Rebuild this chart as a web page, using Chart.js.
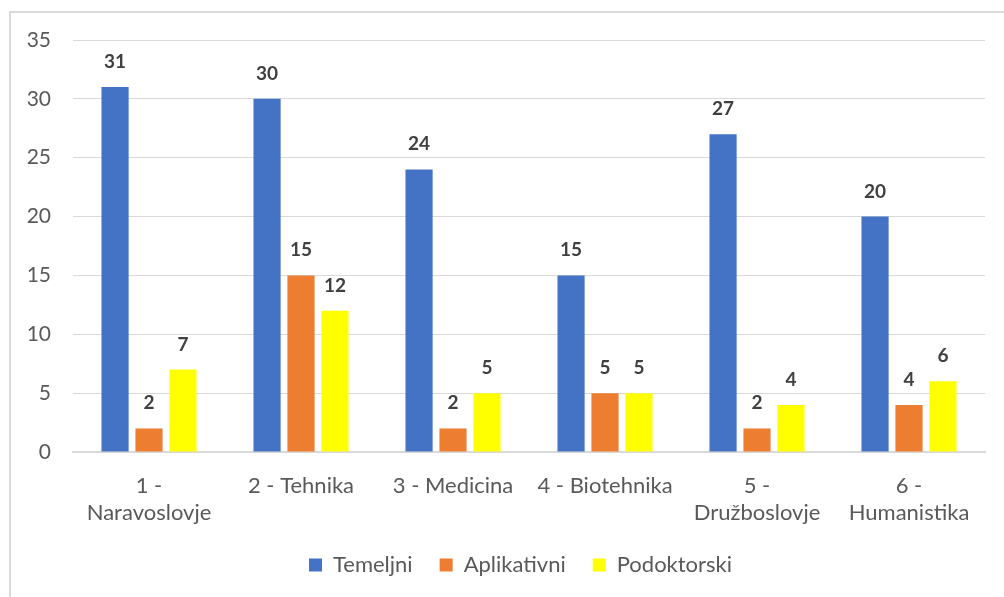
<!DOCTYPE html>
<html>
<head>
<meta charset="utf-8">
<script src="https://cdn.jsdelivr.net/npm/chart.js@4/dist/chart.umd.min.js"></script>
<style>
  body { margin: 0; background: #fff; }
  #frame { position: absolute; left: 9px; top: 11px; width: 1100px; height: 700px; border: 2px solid #d9d9d9; box-sizing: border-box; }
  #wrap { position: absolute; left: 0; top: 0; width: 1004px; height: 597px; }
</style>
</head>
<body>
<div id="frame"></div>
<div id="wrap"><canvas id="chart"></canvas></div>
<script>
const categories = [
    ['1 -', 'Naravoslovje'],
    '2 - Tehnika',
    '3 - Medicina',
    '4 - Biotehnika',
    ['5 -', 'Družboslovje'],
    ['6 -', 'Humanistika']
];
const temeljni = [31, 30, 24, 15, 27, 20];
const aplikativni = [2, 15, 2, 5, 2, 4];
const podoktorski = [7, 12, 5, 5, 4, 6];

const fontFamily = 'Lato, "Open Sans", sans-serif';

// draws the bold value above each bar
const valueLabels = {
    id: 'valueLabels',
    afterDatasetsDraw(chart) {
        const ctx = chart.ctx;
        ctx.save();
        ctx.font = 'bold 19px ' + fontFamily;
        ctx.fillStyle = '#404040';
        ctx.textAlign = 'center';
        ctx.textBaseline = 'alphabetic';
        chart.data.datasets.forEach((ds, i) => {
            chart.getDatasetMeta(i).data.forEach((bar, j) => {
                ctx.fillText(ds.data[j], bar.x, bar.y - 19);
            });
        });
        ctx.restore();
    }
};

// legend sits a little right of the canvas centre in the original
const legendShift = {
    id: 'legendShift',
    afterLayout(chart) {
        chart.legend.left += 18;
        chart.legend.right += 18;
    }
};

new Chart(document.getElementById('chart'), {
    type: 'bar',
    data: {
        labels: categories,
        datasets: [
            { label: 'Temeljni', data: temeljni, backgroundColor: '#4472C4' },
            { label: 'Aplikativni', data: aplikativni, backgroundColor: '#ED7D31' },
            { label: 'Podoktorski', data: podoktorski, backgroundColor: '#FFFF00' }
        ]
    },
    plugins: [valueLabels, legendShift],
    options: {
        responsive: true,
        maintainAspectRatio: false,
        animation: false,
        datasets: {
            bar: { barPercentage: 0.8, categoryPercentage: 0.67 }
        },
        layout: { padding: { top: 40, left: 20, right: 19, bottom: 11 } },
        plugins: {
            tooltip: { enabled: false },
            legend: {
                position: 'bottom',
                labels: {
                    boxWidth: 13,
                    boxHeight: 13,
                    padding: 27,
                    color: '#595959',
                    font: { family: fontFamily, size: 22 }
                }
            }
        },
        scales: {
            x: {
                grid: { display: false },
                border: { display: true, color: '#d9d9d9', width: 2 },
                ticks: {
                    color: '#595959',
                    font: { family: fontFamily, size: 22, lineHeight: 1.25 },
                    maxRotation: 0,
                    autoSkip: false,
                    padding: 12
                },
                afterFit(scale) { scale.height -= 12; }
            },
            y: {
                min: 0,
                max: 35,
                ticks: {
                    stepSize: 5,
                    color: '#595959',
                    font: { family: fontFamily, size: 21 },
                    padding: 22
                },
                grid: { color: '#d9d9d9', lineWidth: 1, drawTicks: false },
                border: { display: false },
                afterFit(scale) { scale.width = 53; }
            }
        }
    }
});
</script>
</body>
</html>
